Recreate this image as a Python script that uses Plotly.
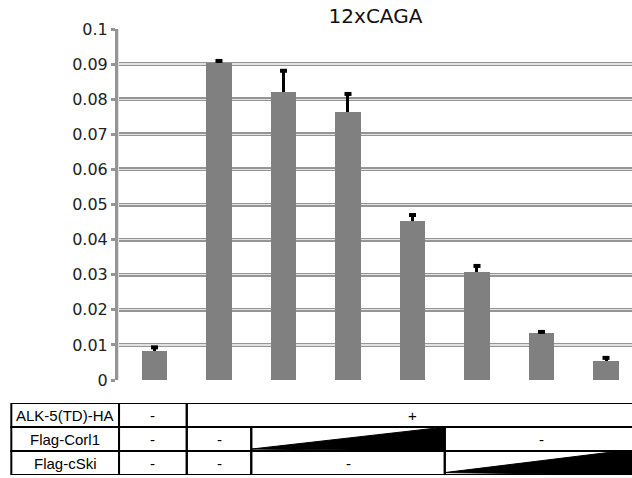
import plotly.graph_objects as go

# ---- data ----
categories = [0, 1, 2, 3, 4, 5, 6, 7]
values = [0.0083, 0.0902, 0.0821, 0.0764, 0.0454, 0.0309, 0.0135, 0.0055]
errors = [0.0010, 0.0007, 0.0060, 0.0051, 0.0016, 0.0016, 0.0002, 0.0008]
tick_vals = [0, 0.01, 0.02, 0.03, 0.04, 0.05, 0.06, 0.07, 0.08, 0.09, 0.1]
tick_text = ["0", "0.01", "0.02", "0.03", "0.04", "0.05", "0.06", "0.07", "0.08", "0.09", "0.1"]
title_text = "12xCAGA"

row_labels = ["ALK-5(TD)-HA", "Flag-Corl1", "Flag-cSki"]
# spans per row: (first category, last category, content)
row_spans = [
    [(0, 0, "-"), (1, 7, "+")],
    [(0, 0, "-"), (1, 1, "-"), (2, 4, "ramp"), (5, 7, "-")],
    [(0, 0, "-"), (1, 1, "-"), (2, 4, "-"), (5, 7, "ramp")],
]

W, H = 632, 478
bar_color = "#808080"
grid_dark = "#959595"
grid_light = "#e2e2e2"
axis_font = "DejaVu Sans, Verdana, sans-serif"
table_font = "Liberation Sans, Arial, sans-serif"

fig = go.Figure()
fig.add_trace(go.Bar(
    x=categories, y=values, width=0.39,
    marker=dict(color=bar_color, line=dict(width=0)),
    error_y=dict(type="data", array=errors, arrayminus=[0] * len(errors),
                 symmetric=False, color="black", thickness=3, width=0),
    xaxis="x", yaxis="y", showlegend=False, hoverinfo="skip",
))
# upper caps of the error bars
fig.add_trace(go.Scatter(
    x=categories, y=[v + e for v, e in zip(values, errors)], mode="markers",
    marker=dict(symbol="line-ew", size=5, color="black", line=dict(color="black", width=4)),
    xaxis="x", yaxis="y", showlegend=False, hoverinfo="skip", cliponaxis=False,
))

# ---- table drawn in its own axes aligned with the categories ----
x_left_label = -2.22
x_axis_left = -0.55
shapes = []
annotations = []
n_rows = len(row_labels)
for i, (label, spans) in enumerate(zip(row_labels, row_spans)):
    y1 = n_rows - i
    y0 = y1 - 1
    shapes.append(dict(type="rect", xref="x2", yref="y2", x0=x_left_label, x1=x_axis_left,
                       y0=y0, y1=y1, line=dict(color="black", width=2)))
    annotations.append(dict(xref="x2", yref="y2", x=(x_left_label + x_axis_left) / 2, y=(y0 + y1) / 2,
                            text=label, showarrow=False,
                            font=dict(size=15, color="black", family=table_font)))
    for (a, b, content) in spans:
        xa = a - 0.5 if a > 0 else x_axis_left
        xb = b + 0.5
        shapes.append(dict(type="rect", xref="x2", yref="y2", x0=xa, x1=xb, y0=y0, y1=y1,
                           line=dict(color="black", width=2)))
        if content == "ramp":
            if i == 1:
                path = f"M {xa},{y0 + 0.08} L {xb - 0.12},{y1 - 0.04} L {xb},{y1 - 0.04} L {xb},{y0} Z"
            else:
                path = f"M {xa},{y0 + 0.1} L {xb - 0.28},{y1} L {xb},{y1} L {xb},{y0} Z"
            shapes.append(dict(type="path", xref="x2", yref="y2", path=path,
                               fillcolor="black", line=dict(color="black", width=1)))
        else:
            annotations.append(dict(xref="x2", yref="y2", x=(xa + xb) / 2, y=(y0 + y1) / 2,
                                    text=content, showarrow=False,
                                    font=dict(size=15, color="black", family=table_font)))

# dummy trace to activate table axes
fig.add_trace(go.Scatter(x=[0], y=[0], xaxis="x2", yaxis="y2", mode="markers",
                         marker=dict(opacity=0), showlegend=False, hoverinfo="skip"))
# dummy trace on overlay axis for light grid centre
fig.add_trace(go.Scatter(x=[0], y=[0], xaxis="x", yaxis="y3", mode="markers",
                         marker=dict(opacity=0), showlegend=False, hoverinfo="skip"))

px_per_unit = 64.5
x0_px = 154.5
y_zero_px, y_top_px = 380, 29
tbl_top_px, tbl_bot_px = 403, 475

fig.update_layout(
    width=W, height=H,
    margin=dict(l=0, r=0, t=0, b=0, pad=0, autoexpand=False),
    paper_bgcolor="white", plot_bgcolor="rgba(0,0,0,0)",
    bargap=0,
    title=dict(text=title_text, x=375.5 / W, xanchor="center", y=1 - 16 / H, yanchor="middle",
               automargin=False,
               font=dict(size=20, color="#111", family=axis_font)),
    xaxis=dict(domain=[119 / W, 1], range=[x_axis_left, 7 + (W - 606) / px_per_unit],
               showgrid=False, zeroline=False, showticklabels=False, ticks="",
               showline=False, fixedrange=True, automargin=False),
    yaxis=dict(domain=[1 - y_zero_px / H, 1 - y_top_px / H], range=[0, 0.1],
               tickvals=tick_vals, ticktext=tick_text,
               showgrid=True, gridcolor=grid_dark, gridwidth=4,
               zeroline=False, showline=True, linecolor=grid_dark, linewidth=4,
               ticks="outside", ticklen=4, tickwidth=3, tickcolor=grid_dark,
               tickfont=dict(size=16, color="#222", family=axis_font),
               fixedrange=True, automargin=False),
    yaxis3=dict(overlaying="y", range=[0, 0.1], tickvals=tick_vals,
                showgrid=True, gridcolor=grid_light, gridwidth=1.3,
                zeroline=False, showticklabels=False, ticks="",
                showline=True, linecolor=grid_light, linewidth=1.3,
                fixedrange=True, automargin=False),
    xaxis2=dict(domain=[0, 1], range=[-x0_px / px_per_unit, (W - x0_px) / px_per_unit],
                anchor="y2", visible=False, fixedrange=True, automargin=False),
    yaxis2=dict(domain=[1 - tbl_bot_px / H, 1 - tbl_top_px / H], range=[0, n_rows],
                anchor="x2", visible=False, fixedrange=True, automargin=False),
    shapes=shapes,
    annotations=annotations,
)

fig.write_html(
    "out.html",
    config={"displayModeBar": False, "staticPlot": True},
    post_script="document.body.style.margin='0px';document.body.style.overflow='hidden';",
)
